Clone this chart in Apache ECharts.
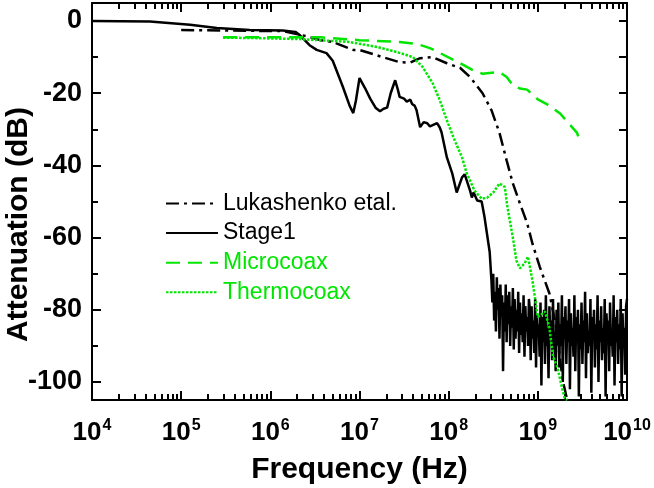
<!DOCTYPE html>
<html><head><meta charset="utf-8">
<script src="https://cdn.jsdelivr.net/npm/echarts@6/dist/echarts.min.js"></script>
<style>html,body{margin:0;padding:0;background:#fff}#c{width:654px;height:488px}</style>
</head><body><div id="c"></div>
<script>
// ---- data (x given as decade exponent: frequency = 10^value Hz) ----
const xDecades = [4, 5, 6, 7, 8, 9, 10];
const yLabelValues = [0, -20, -40, -60, -80, -100];
const yMinorValues = [-90, -70, -50, -30, -10];
const names = ['Lukashenko etal.', 'Stage1', 'Microcoax', 'Thermocoax'];

const lukLogF = [5.00, 6.14, 6.44, 6.56, 6.70, 6.93, 7.00, 7.26, 7.45, 7.57, 7.68, 7.82, 7.98, 8.13, 8.24, 8.38, 8.48, 8.57, 8.65, 8.72, 8.80, 8.88, 8.94, 9.02, 9.13, 9.20, 9.28, 9.33];
const lukDb   = [-2.5, -2.8, -4.4, -5.3, -5.8, -8.0, -8.0, -10.0, -11.4, -11.5, -10.3, -10.0, -11.7, -13.0, -15.5, -20.0, -24.7, -31.0, -38.6, -45.0, -50.6, -56.0, -61.7, -68.0, -75.5, -84.0, -99.7, -105];

const stage1LogF = [4.00, 4.65, 5.10, 5.40, 5.77, 6.14, 6.28, 6.33, 6.44, 6.52, 6.63, 6.70, 6.81, 6.89, 6.93, 6.96, 7.00, 7.06, 7.12, 7.18, 7.23, 7.27, 7.31, 7.35, 7.40, 7.43, 7.45, 7.50, 7.53, 7.57, 7.59, 7.62, 7.64, 7.68, 7.72, 7.76, 7.79, 7.81, 7.87, 7.90, 7.92, 7.98, 8.04, 8.09, 8.15, 8.18, 8.20, 8.24, 8.26, 8.28, 8.32, 8.37, 8.40, 8.43, 8.46,
  8.48, 8.49, 8.50, 8.51, 8.52, 8.53, 8.54, 8.55, 8.56, 8.57, 8.58, 8.59, 8.60,
  8.61,
  8.62, 8.63, 8.64, 8.65, 8.66, 8.67, 8.68, 8.69, 8.70, 8.71, 8.72, 8.73, 8.74, 8.75, 8.76, 8.77, 8.78, 8.79, 8.80, 8.81, 8.82, 8.83, 8.84, 8.85, 8.86, 8.87, 8.88, 8.89, 8.90,
  8.91, 8.92, 8.93, 8.94, 8.95, 8.96, 8.97, 8.98, 8.99, 9.00, 9.01, 9.02, 9.03, 9.04, 9.05, 9.06, 9.07, 9.08, 9.09, 9.10,
  9.11, 9.12, 9.13, 9.14, 9.15, 9.16, 9.17, 9.18, 9.19, 9.20, 9.21, 9.22, 9.23, 9.24, 9.25, 9.26, 9.27, 9.28, 9.29, 9.30,
  9.31, 9.32, 9.33, 9.34, 9.35, 9.36, 9.37, 9.38, 9.39, 9.40, 9.41, 9.42, 9.43, 9.44, 9.45, 9.46, 9.47, 9.48, 9.49, 9.50,
  9.51, 9.52, 9.53, 9.54, 9.55, 9.56, 9.57, 9.58, 9.59, 9.60, 9.61, 9.62, 9.63, 9.64, 9.65, 9.66, 9.67, 9.68, 9.69, 9.70,
  9.71, 9.72, 9.73, 9.74, 9.75, 9.76, 9.77, 9.78, 9.79, 9.80, 9.81, 9.82, 9.83, 9.84, 9.85, 9.86, 9.87, 9.88, 9.89, 9.90,
  9.91, 9.92, 9.93, 9.94, 9.95, 9.96, 9.97, 9.98, 9.99, 10.00];
const stage1Db = [0, -0.1, -1.0, -1.9, -2.5, -2.6, -3.0, -3.9, -6.7, -8.0, -8.9, -11.0, -18.0, -23.5, -25.5, -22.0, -15.8, -18.5, -21.5, -24.0, -25.0, -24.3, -24.0, -20.0, -16.4, -19.0, -21.0, -21.5, -22.3, -21.8, -23.0, -23.5, -24.7, -29.4, -28.0, -28.3, -29.2, -29.7, -28.3, -29.5, -30.8, -37.8, -42.2, -47.5, -43.3, -42.5, -42.8, -47.0, -48.9, -47.5, -49.7, -50.0, -54.0, -59.0, -64.0,
  -72, -78, -70, -83, -75, -86, -71, -80, -74, -88, -73, -82, -76,
  -97,
  -78, -86, -73, -89, -76, -84, -75, -90, -79, -85,
  -74, -91, -77, -88, -80, -86, -75, -92, -78, -87,
  -81, -89, -76, -93, -79, -86, -82, -90, -77,
  -80, -94, -79, -88, -83, -92, -77, -96, -81, -87,
  -84, -93, -78, -101, -82, -89, -80, -95, -76, -90,
  -85, -99, -79, -88, -83, -94, -77, -91, -86, -97,
  -80, -89, -78, -96, -84, -90, -76, -100, -82, -88,
  -79, -95, -83, -89, -77, -102, -81, -90, -85, -93,
  -76, -97, -82, -88, -80, -104, -84, -91, -78, -95,
  -83, -89, -75, -99, -81, -92, -86, -90, -77, -103,
  -82, -88, -80, -96, -84, -91, -76, -100, -83, -89,
  -79, -94, -85, -92, -77, -104, -81, -88, -83, -97,
  -78, -90, -86, -93, -76, -101, -82, -89, -80, -95,
  -84, -91, -77, -104, -81, -90, -85, -98, -79, -77];

const microLogF = [5.47, 6.56, 7.00, 7.45, 7.64, 7.79, 7.93, 8.13, 8.27, 8.38, 8.57, 8.65, 8.72, 8.80, 8.88, 9.00, 9.10, 9.25, 9.34, 9.44, 9.47];
const microDb   = [-4.5, -4.5, -5.3, -5.8, -6.3, -7.5, -9.2, -11.7, -13.6, -14.6, -14.1, -15.5, -17.8, -18.7, -19.0, -21.7, -23.0, -25.6, -28.2, -31.0, -33.3];

const thermoLogF = [5.47, 5.77, 6.33, 6.89, 7.20, 7.42, 7.60, 7.71, 7.82, 7.90, 7.98, 8.05, 8.15, 8.20, 8.29, 8.37, 8.43, 8.50, 8.57, 8.63, 8.66, 8.72, 8.76, 8.80, 8.85, 8.89, 8.94, 9.00, 9.08, 9.13, 9.17, 9.22, 9.27, 9.30, 9.33];
const thermoDb   = [-4.6, -4.7, -5.0, -5.8, -7.2, -8.6, -10.0, -12.8, -17.2, -21.9, -27.5, -32.0, -37.8, -42.0, -47.0, -49.2, -49.0, -47.5, -45.0, -46.0, -51.7, -60.0, -66.4, -68.5, -67.2, -65.3, -72.0, -82.0, -80.5, -85.0, -93.0, -96.0, -101.5, -104.4, -105];

// ---- chart ----
const GREEN = '#00e600';
const FONT = 'Liberation Sans, Arial, sans-serif';
const pairs = (lf, db) => lf.map((e, i) => [Math.pow(10, e), db[i]]);
const minorLog = [];
for (let d = 4; d < 10; d++) for (let k = 2; k <= 9; k++) minorLog.push(d + Math.log10(k));

const chart = echarts.init(document.getElementById('c'), null, {renderer: 'canvas'});
const hiddenLabel = {show: false};
chart.setOption({
  animation: false,
  backgroundColor: '#fff',
  grid: {left: 92, right: 27, top: 3, bottom: 88, containLabel: false, outerBoundsMode: 'none'},
  legend: {
    orient: 'vertical', left: 160, top: 187,
    itemWidth: 52, itemHeight: 22, itemGap: 6.6,
    itemStyle: {opacity: 0},
    textStyle: {fontSize: 23, fontFamily: FONT},
    data: [
      {name: names[0], textStyle: {color: '#000'}},
      {name: names[1], textStyle: {color: '#000'}},
      {name: names[2], textStyle: {color: GREEN}},
      {name: names[3], textStyle: {color: GREEN}}
    ]
  },
  xAxis: [
    {
      type: 'log', logBase: 10, min: 1e4, max: 1e10, position: 'bottom',
      axisLine: {show: true, onZero: false, lineStyle: {color: '#000', width: 2}},
      axisTick: {show: true, inside: true, length: 9, lineStyle: {color: '#000', width: 2}},
      splitLine: {show: false}, minorTick: {show: false},
      axisLabel: {
        margin: 18, color: '#000',
        formatter: v => '{b|10}{e|' + Math.round(Math.log10(v)) + '}',
        rich: {
          b: {fontSize: 26, fontWeight: 'bold', fontFamily: FONT, color: '#000', lineHeight: 30},
          e: {fontSize: 16, fontWeight: 'bold', fontFamily: FONT, color: '#000', verticalAlign: 'top', lineHeight: 30, padding: [0, 0, 0, 1]}
        }
      },
      name: 'Frequency (Hz)', nameLocation: 'middle', nameGap: 55, nameMoveOverlap: false,
      nameTextStyle: {fontSize: 30, fontWeight: 'bold', fontFamily: FONT, color: '#000'}
    },
    {
      type: 'value', min: 4, max: 10, position: 'bottom',
      axisLine: {show: false, onZero: false}, splitLine: {show: false}, axisLabel: hiddenLabel,
      axisTick: {show: true, inside: true, length: 6, customValues: minorLog, lineStyle: {color: '#000', width: 2}}
    },
    {
      type: 'value', min: 4, max: 10, interval: 1, position: 'top',
      axisLine: {show: true, onZero: false, lineStyle: {color: '#000', width: 2}}, splitLine: {show: false}, axisLabel: hiddenLabel,
      axisTick: {show: true, inside: true, length: 9, lineStyle: {color: '#000', width: 2}}
    },
    {
      type: 'value', min: 4, max: 10, position: 'top',
      axisLine: {show: false, onZero: false}, splitLine: {show: false}, axisLabel: hiddenLabel,
      axisTick: {show: true, inside: true, length: 6, customValues: minorLog, lineStyle: {color: '#000', width: 2}}
    }
  ],
  yAxis: [
    {
      type: 'value', min: -105, max: 5, position: 'left',
      axisLine: {show: true, onZero: false, lineStyle: {color: '#000', width: 2}},
      axisTick: {show: true, inside: true, length: 9, customValues: yLabelValues, lineStyle: {color: '#000', width: 2}},
      axisLabel: {customValues: yLabelValues, margin: 10, fontSize: 27, fontWeight: 'bold', fontFamily: FONT, color: '#000'},
      splitLine: {show: false},
      name: 'Attenuation (dB)', nameLocation: 'middle', nameGap: 58, nameMoveOverlap: false,
      nameTextStyle: {fontSize: 30, fontWeight: 'bold', fontFamily: FONT, color: '#000', padding: [0, 46, 0, 0]}
    },
    {
      type: 'value', min: -105, max: 5, position: 'left',
      axisLine: {show: false, onZero: false}, splitLine: {show: false}, axisLabel: hiddenLabel,
      axisTick: {show: true, inside: true, length: 6, customValues: yMinorValues, lineStyle: {color: '#000', width: 2}}
    },
    {
      type: 'value', min: -105, max: 5, position: 'right',
      axisLine: {show: true, onZero: false, lineStyle: {color: '#000', width: 2}}, splitLine: {show: false}, axisLabel: hiddenLabel,
      axisTick: {show: true, inside: true, length: 8, customValues: yLabelValues.concat(yMinorValues), lineStyle: {color: '#000', width: 2}}
    }
  ],
  series: [
    {name: names[0], type: 'line', xAxisIndex: 0, yAxisIndex: 0, symbol: 'none', data: pairs(lukLogF, lukDb),
     lineStyle: {color: '#000', width: 2.5, type: [13, 5, 3, 5]}, itemStyle: {color: '#000'}},
    {name: names[1], type: 'line', xAxisIndex: 0, yAxisIndex: 0, symbol: 'none', data: pairs(stage1LogF, stage1Db),
     lineStyle: {color: '#000', width: 2.5}, itemStyle: {color: '#000'}},
    {name: names[2], type: 'line', xAxisIndex: 0, yAxisIndex: 0, symbol: 'none', data: pairs(microLogF, microDb),
     lineStyle: {color: GREEN, width: 2.5, type: [14, 8]}, itemStyle: {color: GREEN}},
    {name: names[3], type: 'line', xAxisIndex: 0, yAxisIndex: 0, symbol: 'none', data: pairs(thermoLogF, thermoDb),
     lineStyle: {color: GREEN, width: 2.5, type: [2.5, 1.5]}, itemStyle: {color: GREEN}}
  ]
});
</script>
</body></html>
